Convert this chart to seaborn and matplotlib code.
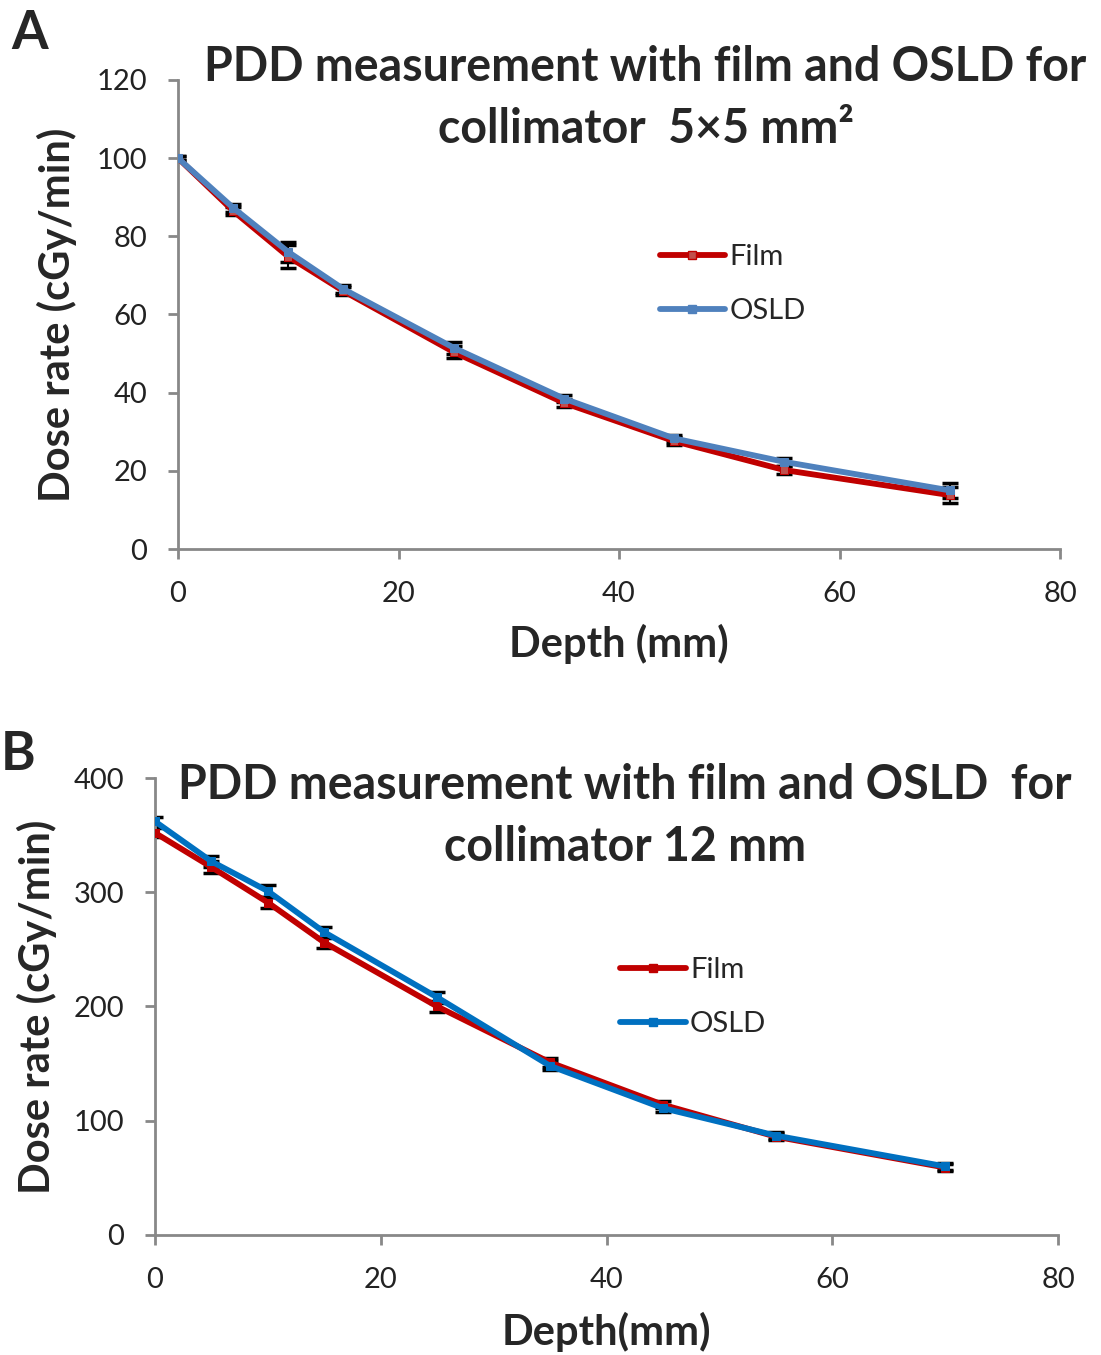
import numpy as np
import pandas as pd
import matplotlib
matplotlib.use("Agg")
import matplotlib.pyplot as plt
import seaborn as sns
from matplotlib.lines import Line2D

sns.set_theme(style="white")
plt.rcParams['font.family'] = ['Lato', 'DejaVu Sans']

depth = [0, 5, 10, 15, 25, 35, 45, 55, 70]

film_a = [100, 86.5, 74.8, 66.0, 50.4, 37.4, 27.6, 20.2, 13.8]
osld_a = [100, 87.3, 76.0, 66.5, 51.5, 38.5, 28.3, 22.3, 15.0]
film_a_err = [0.5, 1.0, 3.0, 1.0, 1.5, 1.0, 1.0, 1.0, 2.0]
osld_a_err = [0.5, 1.0, 2.5, 1.0, 1.5, 1.0, 1.0, 1.0, 2.0]

film_b = [352, 322, 291, 256, 200, 151, 114, 86, 59]
osld_b = [362, 327, 301, 265, 208, 148, 111, 87, 60]
film_b_err = [4, 5, 5, 5, 5, 4, 3, 3, 3]
osld_b_err = [4, 5, 5, 5, 5, 4, 3, 3, 3]

series_names = ["Film", "OSLD"]

fig = plt.figure(figsize=(11.01, 13.55), dpi=100)
axA = fig.add_axes([0.1617, 0.5948, 0.8011, 0.3462])
axB = fig.add_axes([0.1408, 0.0886, 0.8202, 0.3372])

def draw(ax, film, osld, ferr, oerr, cols, mcols, ymax, ystep, title, xlabel,
         title_xy, leg_xy, xlabelpad, ylabelpad):
    df = pd.DataFrame({
        "depth": depth * 2,
        "dose": film + osld,
        "series": ["Film"] * len(depth) + ["OSLD"] * len(depth),
    })
    for name, err, c, mc in zip(series_names, [ferr, oerr], cols, mcols):
        sub = df[df.series == name]
        ax.errorbar(sub.depth, sub.dose, yerr=err, fmt='none', ecolor='black',
                    elinewidth=1.5, capsize=6, capthick=2.5, zorder=2)
        sns.lineplot(data=sub, x="depth", y="dose", ax=ax, color=c, lw=4.2,
                     marker='s', markersize=6, markerfacecolor=mc, markeredgecolor=c,
                     zorder=3, legend=False)
    ax.set_xlim(0, 80)
    ax.set_ylim(0, ymax)
    ax.set_xticks(range(0, 81, 20))
    ax.set_yticks(np.arange(0, ymax + 1, ystep))
    for s in ['top', 'right']:
        ax.spines[s].set_visible(False)
    for s in ['left', 'bottom']:
        ax.spines[s].set_color('#888888')
        ax.spines[s].set_linewidth(2)
    ax.tick_params(axis='both', which='major', direction='out', length=7, width=2,
                   color='#888888', labelsize=21, labelcolor='#222222',
                   left=True, bottom=True)
    ax.tick_params(axis='x', pad=16)
    ax.tick_params(axis='y', pad=15)
    ax.set_xlabel(xlabel, fontsize=30, fontweight='bold', labelpad=xlabelpad)
    ax.set_ylabel("Dose rate (cGy/min)", fontsize=30, fontweight='bold',
                  labelpad=ylabelpad)
    ax.text(title_xy[0], title_xy[1], title, transform=ax.transAxes, ha='center',
            va='center', fontsize=33.5, fontweight='bold', linespacing=1.5)
    handles = [Line2D([], [], color=cols[i], lw=4.2, marker='s', markersize=6,
                      markerfacecolor=mcols[i], markeredgecolor=cols[i])
               for i in range(2)]
    ax.legend(handles, series_names, loc='center left', bbox_to_anchor=leg_xy,
              frameon=False, fontsize=21, handlelength=2.25, handletextpad=0.15,
              labelspacing=0.95, borderpad=0, borderaxespad=0)

draw(axA, film_a, osld_a, film_a_err, osld_a_err,
     ['#C00000', '#4F81BD'], ['#C0504D', '#4F81BD'], 120, 20,
     "PDD measurement with film and OSLD for\ncollimator  5×5 mm²", "Depth (mm)",
     (0.53, 0.962), (0.546, 0.565), 12, 14)
draw(axB, film_b, osld_b, film_b_err, osld_b_err,
     ['#C00000', '#0070C0'], ['#C00000', '#0070C0'], 400, 100,
     "PDD measurement with film and OSLD  for\ncollimator 12 mm", "Depth(mm)",
     (0.52, 0.917), (0.515, 0.521), 14, 12)

fig.text(0.010, 0.975, "A", fontsize=38, fontweight='bold', ha='left', va='center')
fig.text(0.001, 0.443, "B", fontsize=38, fontweight='bold', ha='left', va='center')

fig.savefig("out.png", dpi=100)
